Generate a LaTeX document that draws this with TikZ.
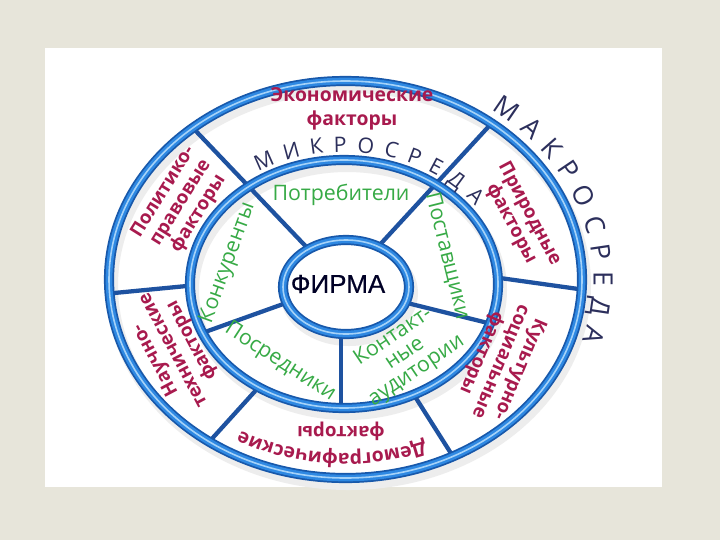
\documentclass[tikz,border=0pt]{standalone}
\usepackage{fontspec}
\setmainfont{Open Sans}
\newfontfamily\redfont{Open Sans}
\newfontfamily\firmafont{Liberation Sans}[FakeBold=0.4]
\usetikzlibrary{calc,decorations.text}

\definecolor{beige}{RGB}{231,229,218}
\definecolor{ringdark}{RGB}{24,88,170}
\definecolor{ringmid}{RGB}{46,136,226}
\definecolor{ringlight}{RGB}{165,210,248}
\definecolor{spokeblue}{RGB}{30,82,160}
\definecolor{redtext}{RGB}{168,26,78}
\definecolor{greentext}{RGB}{55,170,70}
\definecolor{navytext}{RGB}{44,47,92}

\tikzset{
  tubedark/.style={draw=ringdark, line width=7.6pt},
  tubemid/.style={draw=ringmid, line width=5pt},
  tubelight/.style={draw=ringlight, line width=1.2pt},
  tubeshadow/.style={draw=black!7, line width=9pt},
  spoke/.style={draw=spokeblue, line width=3.2pt},
  redlabel/.style={text=redtext, font=\redfont\bfseries\fontsize{14}{15.5}\selectfont, align=center, inner sep=0pt},
  greenlabel/.style={text=greentext, font=\fontsize{16}{15.5}\selectfont, align=center, inner sep=0pt},
}

\begin{document}
\begin{tikzpicture}[x=0.75pt,y=0.75pt,yscale=-1,xscale=1]

        \fill[beige] (0,0) rectangle (720,540);
        \useasboundingbox (0,0) rectangle (720,540);
        \fill[white] (45,48) rectangle (662,487);

        \coordinate (oc) at (345.5,279.5);
        \coordinate (mc) at (344,284);
        \coordinate (fc) at (346,287);

        % shadows
        \draw[tubeshadow] ($(oc)+(3,6)$) ellipse [x radius=236.5, y radius=198.5];
        \draw[tubeshadow] ($(mc)+(3,6)$) ellipse [x radius=154, y radius=124];
        \draw[tubeshadow] ($(fc)+(3,6)$) ellipse [x radius=63, y radius=47];

        % spokes
        \draw[spoke] (193,128) -- (315,256);
        \draw[spoke] (490,125) -- (375,250);
        \draw[spoke] (109,293.5) -- (192,285.5);
        \draw[spoke] (500,278) -- (582,289.5);
        \draw[spoke] (414,395) -- (453,456.5);
        \draw[spoke] (257,389) -- (209,442);
        \draw[spoke] (490,323.5) -- (395,300);
        \draw[spoke] (341,325) -- (341,408);
        \draw[spoke] (205,332) -- (300,298);

        % rings
        \draw[tubedark] (oc) ellipse [x radius=236.5, y radius=198.5];
        \draw[tubemid] (oc) ellipse [x radius=236.5, y radius=198.5];
        \draw[tubelight] (oc) ellipse [x radius=236.5, y radius=198.5];
        \draw[tubedark] (mc) ellipse [x radius=154, y radius=124];
        \draw[tubemid] (mc) ellipse [x radius=154, y radius=124];
        \draw[tubelight] (mc) ellipse [x radius=154, y radius=124];
        \fill[white] (fc) ellipse [x radius=63, y radius=47];
        \draw[tubedark] (fc) ellipse [x radius=63, y radius=47];
        \draw[tubemid] (fc) ellipse [x radius=63, y radius=47];
        \draw[tubelight] (fc) ellipse [x radius=63, y radius=47];

        \node (firma) at (338,284) {\firmafont\fontsize{19.5}{19.5}\selectfont\color{black!85!blue}ФИРМА};

        % macro
        \node[redlabel, font=\redfont\bfseries\fontsize{14.5}{18}\selectfont] (econ) at (352,109) {Экономические\\факторы};
        \node[redlabel, rotate=58] (polit) at (181,203) {Политико-\\правовые\\факторы};
        \node[redlabel, rotate=-62] (prirod) at (520,219) {Природные\\факторы};
        \node[redlabel, rotate=-113] (kult) at (500,361) {Культурно-\\социальные\\факторы};
        \node[redlabel, rotate=180] (demfak) at (341,431) {факторы};
        \node[redlabel, rotate=118] (nauch) at (174,350) {Научно-\\технические\\факторы};
        \path[decorate, decoration={text along path, text={|\redfont\bfseries\fontsize{14.5}{14.5}\selectfont|Демографические}, text align=center, text color=redtext}]
            ($(oc)+(62:212 and 174)$) arc [start angle=62, end angle=126, x radius=212, y radius=174];

        % micro
        \node[greenlabel] (potr) at (341,195) {Потребители};
        \node[greenlabel, rotate=70] (konk) at (228,263) {Конкуренты};
        \node[greenlabel, rotate=-76] (post) at (447,256) {Поставщики};
        \node[greenlabel, rotate=-33] (posr) at (280,362) {Посредники};
        \node[greenlabel, rotate=34] (kont) at (405,354) {Контакт-\\ные\\аудитории};

        \path[decorate, decoration={text along path, text={|\fontsize{16}{16}\selectfont|МИКРОСРЕДА}, text align=fit to path, text color=navytext}]
            ($(mc)+(-122:162 and 132)$) arc [start angle=-122, end angle=-36, x radius=162, y radius=132];
        \path[decorate, decoration={text along path, text={|\fontsize{20}{20}\selectfont|МАКРОСРЕДА}, text align=fit to path, text color=navytext}]
            ($(oc)+(-54:248 and 210)$) arc [start angle=-54, end angle=17, x radius=248, y radius=210];
    \end{tikzpicture}
\end{document}
